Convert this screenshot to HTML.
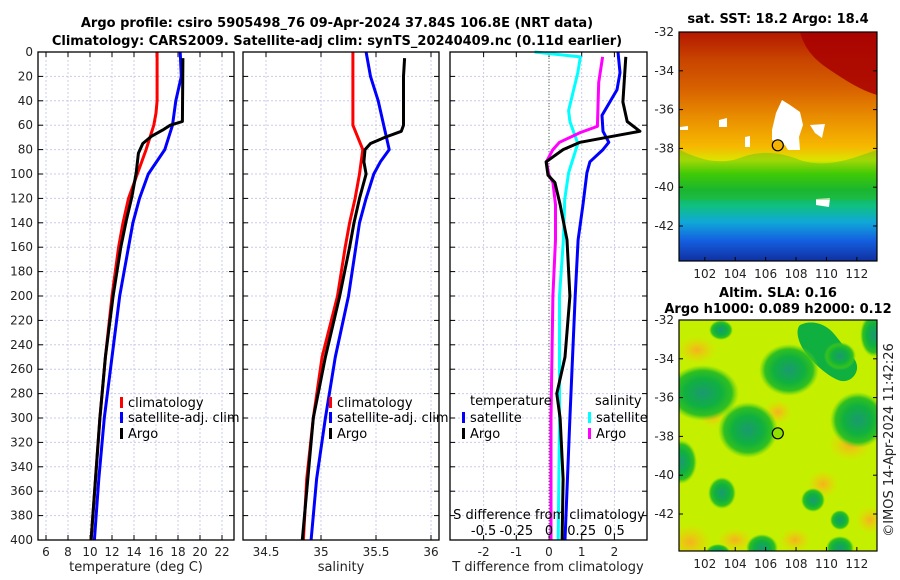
<!DOCTYPE html>
<html><head><meta charset="utf-8">
<style>
body{margin:0;background:#fff;}
svg{display:block;font-family:"DejaVu Sans","Liberation Sans",sans-serif;}
.t{font-size:12px;fill:#222;}
.b{font-size:13px;font-weight:bold;fill:#000;}
.lg{font-size:13px;fill:#000;}
</style></head>
<body>
<svg id="fig" width="900" height="580" viewBox="0 0 900 580" xmlns="http://www.w3.org/2000/svg">
<defs>
<linearGradient id="sstg" x1="0" y1="0" x2="0" y2="1">
<stop offset="0" stop-color="#b41800"/><stop offset="0.12" stop-color="#c84400"/><stop offset="0.25" stop-color="#d86200"/><stop offset="0.38" stop-color="#ea9000"/><stop offset="0.5" stop-color="#f6b800"/><stop offset="0.56" stop-color="#dce400"/><stop offset="0.62" stop-color="#48d000"/><stop offset="0.69" stop-color="#10b040"/><stop offset="0.76" stop-color="#10c080"/><stop offset="0.83" stop-color="#10a8d8"/><stop offset="0.91" stop-color="#1460e0"/><stop offset="1" stop-color="#1030a0"/>
</linearGradient>
<radialGradient id="gblob"><stop offset="0" stop-color="#1a9a70"/><stop offset="0.5" stop-color="#10b040"/><stop offset="0.8" stop-color="#30c020"/><stop offset="1" stop-color="#60d010" stop-opacity="0"/></radialGradient>
<radialGradient id="oblob"><stop offset="0" stop-color="#f8b020"/><stop offset="1" stop-color="#f0d000" stop-opacity="0"/></radialGradient>
</defs>
<g>
<text class="b" x="337" y="27" text-anchor="middle">Argo profile: csiro 5905498_76 09-Apr-2024 37.84S 106.8E (NRT data)</text>
<text class="b" x="337" y="45" text-anchor="middle">Climatology: CARS2009. Satellite-adj clim: synTS_20240409.nc (0.11d earlier)</text>
</g>
</svg>
<script>
// ---------- data ----------
const depthClim = [0,40,50,60,80,100,120,140,160,200,250,300,350,400];
const tempClim = [16.1,16.1,16.0,15.8,15.1,14.3,13.5,13.0,12.6,12.0,11.4,10.9,10.5,10.1];
const depthSat = [0,20,40,60,80,100,120,140,200,250,300,350,400];
const tempSat = [18.2,18.3,17.8,17.5,16.8,15.3,14.5,13.9,12.7,12.0,11.3,10.8,10.4];
const depthArgo = [5,57,60,64,69,75,83,99,119,138,160,200,250,300,350,400];
const tempArgo = [18.45,18.4,17.3,16.6,15.6,14.8,14.4,14.2,13.8,13.3,12.8,12.1,11.4,10.9,10.5,10.1];

const salClim = [35.29,35.29,35.29,35.29,35.38,35.35,35.31,35.26,35.22,35.15,35.01,34.93,34.87,34.84];
const depthSalSat = [0,10,20,40,60,80,90,100,120,140,200,250,300,350,400];
const salSat = [35.41,35.43,35.45,35.52,35.57,35.62,35.54,35.48,35.41,35.35,35.25,35.13,35.04,34.96,34.91];
const depthSalArgo = [5,20,60,65,70,75,80,90,100,120,140,160,200,250,300,350,400];
const salArgo = [35.76,35.75,35.75,35.73,35.58,35.45,35.40,35.39,35.41,35.35,35.30,35.26,35.17,35.04,34.93,34.88,34.83];

const depthDT = [4,41,57,65,69,74,80,90,101,107,125,154,200,250,280,300,350,400];
const dTArgo = [2.35,2.26,2.39,2.78,1.96,0.95,0.43,-0.09,-0.03,0.18,0.34,0.55,0.64,0.49,0.24,0.34,0.43,0.40];
const depthDTsat = [0,17,31,52,65,74,80,90,99,125,154,200,300,400];
const dTSat = [2.11,2.17,2.08,1.62,1.65,1.83,1.65,1.25,1.16,1.04,0.89,0.80,0.64,0.49];
const depthDSsat = [0,4,17,48,57,75,99,121,154,200,300,400];
const dSSat = [-0.11,0.24,0.22,0.15,0.16,0.22,0.15,0.12,0.11,0.08,0.08,0.07];
const depthDSargo = [4,25,61,66,74,80,90,101,107,125,154,200,300,400];
const dSArgo = [0.41,0.38,0.37,0.24,0.08,0.03,-0.02,0,0.03,0.05,0.05,0.03,0.015,0.015];

const depthTicks = [0,20,40,60,80,100,120,140,160,180,200,220,240,260,280,300,320,340,360,380,400];
const tempTicks = [6,8,10,12,14,16,18,20,22];
const salTicks = [34.5,35,35.5,36];
const dTTicks = [-2,-1,0,1,2];
const dSTicks = [-0.5,-0.25,0,0.25,0.5];
const lonTicks = [102,104,106,108,110,112];
const latTicks = [-32,-34,-36,-38,-40,-42];
const argoLon = 106.8, argoLat = -37.84;

// ---------- helpers ----------
const NS = "http://www.w3.org/2000/svg";
const fig = document.getElementById('fig');
function mk(tag, attrs, parent){const e=document.createElementNS(NS,tag);for(const k in attrs)e.setAttribute(k,attrs[k]);(parent||fig).appendChild(e);return e;}
function txt(s,x,y,cls,anchor,parent){const e=mk('text',{x:x,y:y,class:cls,'text-anchor':anchor||'middle'},parent);e.textContent=s;return e;}

const Y0=52, Y1=540;
const yD = d => Y0 + d*(Y1-Y0)/400;

function panel(name){
  const g=mk('g',{});
  
  
  return g;
}
function frame(g,x0,x1,vx,name){
  const r=mk('rect',{x:x0,y:Y0,width:x1-x0,height:Y1-Y0,fill:'none',stroke:'#000','stroke-width':1.3},g);
  
  
}
function hgrid(g,x0,x1,name){
  depthTicks.forEach(d=>{
    const l=mk('line',{x1:x0,x2:x1,y1:yD(d),y2:yD(d),stroke:'#c8cce8','stroke-width':1,'stroke-dasharray':'2,2'},g);
    
    
    const t1=mk('line',{x1:x0,x2:x0+5,y1:yD(d),y2:yD(d),stroke:'#000'},g);
    
    
    const t2=mk('line',{x1:x1-5,x2:x1,y1:yD(d),y2:yD(d),stroke:'#000'},g);
    
    
  });
}
function vgrid(g,ticks,xf,name,labels){
  ticks.forEach(v=>{
    const x=xf(v);
    const l=mk('line',{x1:x,x2:x,y1:Y0,y2:Y1,stroke:'#c8cce8','stroke-width':1,'stroke-dasharray':'2,2'},g);
    
    
    const t=mk('line',{x1:x,x2:x,y1:Y1-5,y2:Y1,stroke:'#000'},g);
    
    
    const t2=mk('line',{x1:x,x2:x,y1:Y0,y2:Y0+5,stroke:'#000'},g);
    
    
    if(labels){
      const tl=txt(String(v),x,556,'t','middle',g);
      
      
    }
  });
}
function line(g,xs,ds,xf,color,name){
  const pts=xs.map((v,i)=>xf(v).toFixed(1)+','+yD(ds[i]).toFixed(1)).join(' ');
  const p=mk('polyline',{points:pts,fill:'none',stroke:color,'stroke-width':3,'stroke-linejoin':'round'},g);
  
  
}
function legendEntry(g,x,y,color,label,name){
  const r=mk('rect',{x:x,y:y-10,width:3,height:11,fill:color},g);
  
  
  const t=txt(label,x+8,y,'lg','start',g);
  
  
}

// ---------- panel 1: temperature ----------
const xT = v => 46 + (v-6)*11;
const p1=panel('temperature-panel');
vgrid(p1,tempTicks,xT,'temperature',true);
hgrid(p1,38,234,'temperature');
depthTicks.forEach(d=>{const t=txt(String(d),33,yD(d)+4,'t','end',p1);
  
  });
line(p1,tempClim,depthClim,xT,'#ff0000','temperature-climatology-line');
line(p1,tempSat,depthSat,xT,'#0000ff','temperature-satellite-line');
line(p1,tempArgo,depthArgo,xT,'#000000','temperature-argo-line');
frame(p1,38,234,null,'temperature');
legendEntry(p1,120,407,'#ff0000','climatology','temperature-legend-climatology');
legendEntry(p1,120,422,'#0000ff','satellite-adj. clim','temperature-legend-satellite');
legendEntry(p1,120,438,'#000000','Argo','temperature-legend-argo');
{const t=txt('temperature (deg C)',136,571,'t','middle',p1);t.style.fontSize='13px';
 
 }

// ---------- panel 2: salinity ----------
const xS = v => 266 + (v-34.5)*110;
const p2=panel('salinity-panel');
vgrid(p2,salTicks,xS,'salinity',true);
hgrid(p2,243,439,'salinity');
line(p2,salClim,depthClim,xS,'#ff0000','salinity-climatology-line');
line(p2,salSat,depthSalSat,xS,'#0000ff','salinity-satellite-line');
line(p2,salArgo,depthSalArgo,xS,'#000000','salinity-argo-line');
frame(p2,243,439,null,'salinity');
legendEntry(p2,329,407,'#ff0000','climatology','salinity-legend-climatology');
legendEntry(p2,329,422,'#0000ff','satellite-adj. clim','salinity-legend-satellite');
legendEntry(p2,329,438,'#000000','Argo','salinity-legend-argo');
{const t=txt('salinity',341,571,'t','middle',p2);t.style.fontSize='13px';
 
 }

// ---------- panel 3: differences ----------
const xDT = v => 549 + v*32.7;
const xDS = v => 549 + v*130.8;
const p3=panel('difference-panel');
vgrid(p3,dTTicks,xDT,'tdiff',true);
hgrid(p3,450,647,'difference');
{const z=mk('line',{x1:xDT(0),x2:xDT(0),y1:Y0,y2:Y1,stroke:'#556644','stroke-width':1,'stroke-dasharray':'1,2'},p3);
 
 }
line(p3,dSSat,depthDSsat,xDS,'#00ffff','salinity-satellite-diff-line');
line(p3,dSArgo,depthDSargo,xDS,'#ff00ff','salinity-argo-diff-line');
line(p3,dTSat,depthDTsat,xDT,'#0000ff','temperature-satellite-diff-line');
line(p3,dTArgo,depthDT,xDT,'#000000','temperature-argo-diff-line');
frame(p3,450,647,null,'difference');
{const t=txt('temperature',470,405,'lg','start',p3);
 
 
 const s=txt('salinity',595,405,'lg','start',p3);
 
 }
legendEntry(p3,462,422,'#0000ff','satellite','difference-legend-temp-satellite');
legendEntry(p3,462,438,'#000000','Argo','difference-legend-temp-argo');
legendEntry(p3,588,422,'#00ffff','satellite','difference-legend-sal-satellite');
legendEntry(p3,588,438,'#ff00ff','Argo','difference-legend-sal-argo');
{const t=txt('S difference from climatology',549,519,'lg','middle',p3);
 
 }
dSTicks.forEach(v=>{const t=txt(String(v),xDS(v),535,'lg','middle',p3);
 
 });
{const t=txt('T difference from climatology',548,571,'t','middle',p3);t.style.fontSize='13px';
 
 }

// ---------- maps ----------
const MX0=679, MX1=877;
const xL = lon => MX0 + (lon-100.3)*15.2;
function mapAxes(g,my0,my1,name,yoff){
  const yl = lat => yoff + (-32-lat)*19.4;
  lonTicks.forEach(v=>{
    const t=mk('line',{x1:xL(v),x2:xL(v),y1:my1-4,y2:my1,stroke:'#000'},g);
    
    
    const l=txt(String(v),xL(v),my1+17,'t','middle',g);
    
    
  });
  latTicks.forEach(v=>{
    const t=mk('line',{x1:MX0,x2:MX0+4,y1:yl(v),y2:yl(v),stroke:'#000'},g);
    
    
    const t2=mk('line',{x1:MX1-4,x2:MX1,y1:yl(v),y2:yl(v),stroke:'#000'},g);
    
    
    const l=txt(String(v),674,yl(v)+4,'t','end',g);
    
    
  });
  const r=mk('rect',{x:MX0,y:my0,width:MX1-MX0,height:my1-my0,fill:'none',stroke:'#000','stroke-width':1.2},g);
  
  
  const c=mk('circle',{cx:xL(argoLon),cy:yl(argoLat),r:5.5,fill:name==='sst-map'?'#f6b400':'#90e000',stroke:'#000','stroke-width':1.2},g);
  
  
}
// SST map
const m1=panel('sst-map');
{const cp=mk('clipPath',{id:'c1'},m1);mk('rect',{x:MX0,y:32,width:MX1-MX0,height:229},cp);
 const g=mk('g',{'clip-path':'url(#c1)'},m1);
 const bg=mk('rect',{x:MX0,y:32,width:MX1-MX0,height:229,fill:'url(#sstg)'},g);
 
 
 const hot=mk('path',{d:'M800 32 L877 32 L877 95 C860 90 845 80 830 70 C815 60 805 50 800 32 Z',fill:'#a80000',opacity:0.85},g);
 
 
 const wh=mk('path',{d:'M772 130 L776 113 L782 100 L790 105 L800 112 L803 125 L799 137 L800 150 L788 150 L785 145 L772 140 Z M810 125 L825 124 L822 138 L815 133 Z M719 120 L727 118 L727 127 L719 127 Z M680 127 L688 126 L688 130 L680 130 Z M816 199 L830 198 L829 207 L816 205 Z M745 137 L750 136 L750 147 L745 147 Z',fill:'#ffffff'},g);
 
 
 const yb=mk('path',{d:'M680 150 C700 160 720 165 740 158 C760 150 780 152 800 160 C830 170 860 155 877 150 L877 200 L680 200 Z',fill:'#30c010',opacity:0.35},g);
 
 
}
mapAxes(m1,32,261,'sst-map',32);
{const t=txt('sat. SST: 18.2 Argo: 18.4',778,23,'b','middle',m1);
 
 }

// SLA map
const m2=panel('sla-map');
{const cp=mk('clipPath',{id:'c2'},m2);mk('rect',{x:MX0,y:320,width:MX1-MX0,height:231},cp);
 const g=mk('g',{'clip-path':'url(#c2)'},m2);
 const bg=mk('rect',{x:MX0,y:320,width:MX1-MX0,height:231,fill:'#c4f000'},g);
 
 
 const oblobs=[[697,350,20,14],[712,415,14,12],[778,412,14,12],[850,445,22,16],[823,484,16,14],[690,542,22,18],[735,540,18,12],[795,540,16,12],[870,520,14,14]];
 oblobs.forEach(b=>{const e=mk('ellipse',{cx:b[0],cy:b[1],rx:b[2],ry:b[3],fill:'url(#oblob)'},g);
  
  });
 const band=mk('path',{d:'M800 325 C810 320 825 322 835 335 L855 360 C862 372 850 385 838 380 C828 376 815 365 805 352 C798 342 795 330 800 325 Z',fill:'#10b040'},g);
 
 
 const gblobs=[[703,393,36,28],[789,370,30,26],[840,356,16,14],[748,430,30,28],[858,420,28,28],[681,462,16,22],[722,493,14,16],[813,500,12,12],[840,520,10,10],[762,548,16,14],[840,548,14,12],[721,330,12,10],[874,335,14,22],[718,552,12,8]];
 gblobs.forEach(b=>{const e=mk('ellipse',{cx:b[0],cy:b[1],rx:b[2],ry:b[3],fill:'url(#gblob)'},g);
  
  });
}
mapAxes(m2,320,551,'sla-map',320);
{const t=txt('Altim. SLA: 0.16',778,297,'b','middle',m2);
 
 
 const t2=txt('Argo h1000: 0.089 h2000: 0.12',778,313,'b','middle',m2);
 
 
 const c=txt('©IMOS 14-Apr-2024 11:42:26',0,0,'t','middle',m2);
 c.setAttribute('transform','translate(893,440) rotate(-90)');
 c.style.fontSize='13px';
 
 }
</script>
</body></html>
